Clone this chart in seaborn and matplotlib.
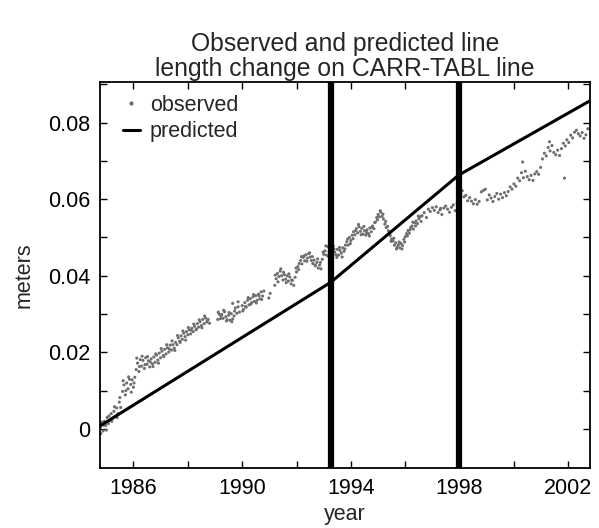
import matplotlib
matplotlib.use("Agg")
import matplotlib.pyplot as plt
from matplotlib.lines import Line2D
import numpy as np
import pandas as pd
import seaborn as sns

# ---------------- data ----------------
# observed line length change, first reading pass (years, millimetres)
obs_year = [
    1984.78, 1984.83, 1984.88, 1984.93, 1984.98, 1985.03, 1985.08, 1985.13, 1985.18, 1985.23,
    1985.28, 1985.33, 1985.38, 1985.43, 1985.48, 1985.53, 1985.60, 1985.65, 1985.70, 1985.75,
    1985.80, 1985.85, 1985.90, 1985.95, 1986.00, 1986.05, 1986.10, 1986.15, 1986.20, 1986.25,
    1986.30, 1986.35, 1986.40, 1986.45, 1986.50, 1986.55, 1986.60, 1986.65, 1986.70, 1986.75,
    1986.80, 1986.85, 1986.90, 1986.95, 1987.00, 1987.05, 1987.10, 1987.15, 1987.20, 1987.25,
    1987.30, 1987.35, 1987.40, 1987.45, 1987.50, 1987.55, 1987.60, 1987.65, 1987.70, 1987.75,
    1987.80, 1987.85, 1987.90, 1987.95, 1988.00, 1988.05, 1988.10, 1988.15, 1988.20, 1988.25,
    1988.30, 1988.35, 1988.40, 1988.45, 1988.50, 1988.55, 1988.60, 1988.65, 1988.70, 1988.75,
    1988.80, 1989.10, 1989.15, 1989.20, 1989.25, 1989.30, 1989.35, 1989.40, 1989.45, 1989.50,
    1989.55, 1989.60, 1989.65, 1989.70, 1989.75, 1989.80, 1989.85, 1989.90, 1990.00, 1990.05,
    1990.10, 1990.15, 1990.20, 1990.25, 1990.30, 1990.35, 1990.40, 1990.45, 1990.50, 1990.55,
    1990.60, 1990.65, 1990.70, 1990.75, 1990.80, 1990.98, 1991.03, 1991.20, 1991.25, 1991.30,
    1991.35, 1991.40, 1991.45, 1991.50, 1991.55, 1991.60, 1991.65, 1991.70, 1991.75, 1991.80,
    1991.85, 1991.90, 1991.95, 1992.00, 1992.05, 1992.10, 1992.15, 1992.20, 1992.25, 1992.30,
    1992.35, 1992.40, 1992.45, 1992.50, 1992.55, 1992.60, 1992.65, 1992.70, 1992.75, 1992.80,
    1992.85, 1992.90, 1992.95, 1993.00, 1993.05, 1993.10, 1993.15, 1993.20, 1993.25, 1993.30,
    1993.35, 1993.40, 1993.45, 1993.50, 1993.55, 1993.60, 1993.65, 1993.70, 1993.75, 1993.80,
    1993.85, 1993.90, 1993.95, 1994.00, 1994.05, 1994.10, 1994.15, 1994.20, 1994.25, 1994.30,
    1994.35, 1994.40, 1994.45, 1994.50, 1994.55, 1994.60, 1994.65, 1994.70, 1994.75, 1994.80,
    1994.85, 1994.90, 1994.95, 1995.00, 1995.05, 1995.10, 1995.15, 1995.20, 1995.25, 1995.30,
    1995.35, 1995.40, 1995.45, 1995.50, 1995.55, 1995.60, 1995.65, 1995.70, 1995.75, 1995.80,
    1995.85, 1995.90, 1995.95, 1996.00, 1996.05, 1996.10, 1996.15, 1996.20, 1996.25, 1996.30,
    1996.35, 1996.40, 1996.45, 1996.50, 1996.55, 1996.62, 1996.70, 1996.78, 1996.85, 1996.92,
    1997.00, 1997.07, 1997.14, 1997.21, 1997.28, 1997.35, 1997.42, 1997.49, 1997.56, 1997.63,
    1997.70, 1997.77, 1997.84, 1997.91, 1998.05, 1998.10, 1998.16, 1998.23, 1998.30, 1998.37,
    1998.44, 1998.51, 1998.58, 1998.65, 1998.72, 1998.80, 1998.88, 1998.95, 1999.02, 1999.09,
    1999.16, 1999.23, 1999.30, 1999.37, 1999.44, 1999.51, 1999.58, 1999.65, 1999.72, 1999.79,
    1999.86, 1999.93, 2000.00, 2000.07, 2000.14, 2000.21, 2000.28, 2000.35, 2000.42, 2000.49,
    2000.56, 2000.63, 2000.70, 2000.77, 2000.84, 2000.91, 2000.98, 2001.05, 2001.12, 2001.19,
    2001.26, 2001.33, 2001.40, 2001.47, 2001.54, 2001.61, 2001.68, 2001.75, 2001.82, 2001.89,
    2001.95, 2002.02, 2002.09, 2002.16, 2002.23, 2002.30, 2002.37, 2002.44, 2002.51, 2002.58,
    2002.65, 2002.72, 2001.86, 2000.32, 2001.31, 1997.30,
]
obs_mm = [
    0.5, 1.8, -0.5, 2.0, 0.9, 3.0, 1.4, 2.2, 4.0, 2.8,
    4.6, 3.2, 5.5, 4.0, 7.0, 5.6, 9.8, 11.5, 8.9, 12.0,
    10.5, 13.0, 11.6, 12.8, 10.9, 13.5, 15.5, 17.2, 15.0, 18.1,
    16.4, 17.9, 15.8, 18.6, 16.9, 17.8, 16.2, 18.3, 17.0, 18.8,
    17.4, 19.3, 18.0, 19.8, 18.6, 20.3, 19.2, 20.8, 19.6, 21.2,
    20.1, 21.9, 20.6, 22.0, 21.1, 22.6, 22.0, 23.8, 22.9, 24.3,
    23.4, 25.0, 24.1, 25.4, 24.6, 25.9, 24.8, 26.3, 25.4, 26.8,
    25.9, 27.5, 26.6, 28.0, 27.0, 28.6, 27.5, 29.0, 27.9, 28.6,
    27.6, 28.6, 30.0, 28.8, 29.9, 28.9, 30.6, 29.3, 28.5, 29.7,
    28.4, 30.1, 28.7, 29.5, 31.6, 30.2, 31.9, 30.5, 32.2, 31.2,
    33.0, 31.8, 33.6, 32.4, 34.0, 33.0, 34.5, 33.3, 34.8, 33.6,
    35.2, 34.0, 35.8, 34.7, 36.0, 34.2, 35.4, 37.5, 39.2, 40.6,
    39.8, 41.2, 40.0, 38.9, 40.3, 39.1, 40.0, 38.6, 39.7, 37.9,
    38.8, 37.5, 39.6, 41.0, 42.4, 43.2, 44.0, 43.1, 44.8, 43.9,
    45.5, 44.6, 45.8, 44.9, 44.0, 43.2, 44.1, 42.6, 43.5, 42.0,
    42.8, 41.8, 44.3, 45.6, 46.5, 45.4, 47.6, 46.3, 47.0, 46.0,
    47.8, 46.2, 45.5, 46.9, 45.4, 46.6, 45.9, 47.3, 46.4, 48.0,
    48.9, 48.0, 50.0, 49.2, 50.6, 51.5, 50.7, 52.3, 51.2, 52.8,
    51.6, 52.4, 50.9, 51.8, 50.6, 52.0, 51.0, 52.5, 51.5, 53.0,
    52.3, 54.0, 55.2, 56.0, 55.4, 56.6, 55.5, 54.8, 53.5, 52.6,
    52.9, 51.0, 50.5, 49.6, 49.1, 48.0, 48.6, 47.5, 48.1, 47.3,
    48.4, 47.9, 49.5, 50.2, 51.0, 51.8, 51.1, 52.6, 53.0, 52.2,
    53.8, 54.3, 53.6, 54.9, 55.4, 55.7, 56.5, 55.2, 57.4, 56.8,
    57.8, 57.1, 58.0, 56.5, 57.2, 56.0, 57.7, 58.2, 57.4, 56.6,
    57.9, 58.5, 57.0, 59.0, 61.4, 62.2, 60.6, 61.0, 59.6, 60.4,
    59.5, 58.8, 59.9, 58.7, 59.4, 61.9, 62.3, 62.6, 59.8, 61.1,
    60.3, 59.4, 60.7, 61.5, 60.0, 61.3, 60.4, 61.7, 60.9, 62.0,
    63.2, 62.6, 64.0, 63.4, 65.5, 64.8, 66.9, 65.6, 67.3, 65.9,
    65.1, 66.2, 64.9, 66.6, 67.2, 66.5, 68.3, 70.5, 72.0, 71.3,
    73.5, 72.6, 74.0, 72.2, 71.6, 72.8, 71.4, 73.2, 74.6, 73.9,
    75.5, 74.8, 76.7, 76.0, 77.5, 78.0, 77.1, 76.5, 77.4, 75.9,
    76.8, 78.4, 65.5, 69.7, 75.0, 57.6,
]

# observed, second reading pass through the dense part of the cloud
obs_year_b = [
    1984.80, 1984.90, 1985.00, 1985.10, 1985.20, 1985.30, 1985.40, 1985.50, 1985.62, 1985.72,
    1985.82, 1985.92, 1986.02, 1986.12, 1986.22, 1986.32, 1986.42, 1986.52, 1986.62, 1986.72,
    1986.82, 1986.92, 1987.02, 1987.12, 1987.22, 1987.32, 1987.42, 1987.52, 1987.62, 1987.72,
    1987.82, 1987.92, 1988.02, 1988.12, 1988.22, 1988.32, 1988.42, 1988.52, 1988.62, 1988.72,
    1989.12, 1989.22, 1989.32, 1989.42, 1989.52, 1989.62, 1989.72, 1989.65, 1989.85, 1990.02,
    1990.12, 1990.22, 1990.32, 1990.42, 1990.52, 1990.62, 1990.72, 1991.22, 1991.32, 1991.42,
    1991.52, 1991.62, 1991.72, 1991.82, 1991.98, 1992.08, 1992.18, 1992.28, 1992.38, 1992.48,
    1992.58, 1992.68, 1992.78, 1992.88, 1992.98, 1993.08, 1993.18, 1993.28, 1993.38, 1993.48,
    1993.58, 1993.68, 1993.78, 1993.88, 1993.98, 1994.08, 1994.18, 1994.28, 1994.38, 1994.48,
    1994.58, 1994.68, 1994.78, 1994.88, 1994.98, 1995.08, 1995.18, 1995.28, 1995.38, 1995.48,
    1995.58, 1995.68, 1995.78, 1995.88, 1995.98, 1996.08, 1996.18, 1996.28, 1996.38, 1996.48,
    1996.58,
]
obs_mm_b = [
    -1.2, 1.0, -0.3, 3.4, 2.0, 5.8, 3.0, 8.2, 12.6, 10.0,
    13.6, 9.6, 12.0, 18.5, 16.3, 19.0, 16.8, 18.9, 17.5, 16.3,
    19.6, 17.2, 21.0, 18.9, 22.0, 20.9, 23.0, 20.5, 24.4, 22.6,
    25.6, 23.2, 26.5, 25.8, 27.4, 26.1, 28.5, 26.4, 29.5, 28.3,
    30.5, 29.5, 31.0, 28.2, 30.4, 28.0, 30.8, 32.8, 33.2, 30.8,
    32.0, 34.3, 32.6, 35.1, 32.9, 34.8, 33.8, 40.2, 38.4, 41.8,
    40.9, 38.2, 40.5, 38.9, 42.0, 41.6, 45.0, 45.2, 43.8, 46.0,
    45.0, 42.8, 44.4, 43.5, 46.2, 47.8, 45.0, 48.2, 47.0, 44.8,
    47.4, 44.9, 47.0, 49.6, 48.4, 49.7, 51.8, 53.4, 50.7, 52.9,
    51.3, 50.4, 52.6, 53.9, 54.6, 57.0, 56.1, 54.2, 51.8, 49.0,
    49.8, 47.0, 48.8, 47.0, 48.8, 50.4, 52.0, 54.0, 53.0, 55.6,
    54.2,
]

pred_year = [1984.77, 1993.26, 1997.97, 2002.80]
pred_m = [0.0008, 0.0383, 0.0663, 0.0857]

event_years = [1993.26, 1997.97]

x_ticks = [1986, 1988, 1990, 1992, 1994, 1996, 1998, 2000, 2002]
x_ticklabels = ["1986", "", "1990", "", "1994", "", "1998", "", "2002"]
y_ticks = [0.0, 0.01, 0.02, 0.03, 0.04, 0.05, 0.06, 0.07, 0.08, 0.09]
y_ticklabels = ["0", "", "0.02", "", "0.04", "", "0.06", "", "0.08", ""]

title_text = "Observed and predicted line\nlength change on CARR-TABL line"

# ---------------- plotting ----------------
sns.set_theme(style="white")
plt.rcParams["font.family"] = ["Liberation Sans", "DejaVu Sans"]

obs = pd.DataFrame({
    "year": obs_year + obs_year_b,
    "meters": np.array(obs_mm + obs_mm_b) / 1000.0,
})
pred = pd.DataFrame({"year": pred_year, "meters": pred_m})

fig = plt.figure(figsize=(5.99, 5.28), dpi=100)
ax = fig.add_axes([0.167, 0.1136, 0.818, 0.7311])

grey = "#6e6e6e"
sns.scatterplot(data=obs, x="year", y="meters", ax=ax, s=5, color=grey,
                edgecolor="none", linewidth=0, legend=False, zorder=2)
sns.lineplot(data=pred, x="year", y="meters", ax=ax, color="black",
             linewidth=2.2, legend=False, zorder=3)
for ev in event_years:
    ax.axvline(ev, color="black", linewidth=4.5, zorder=4)

ax.set_xlim(1984.77, 2002.80)
ax.set_ylim(-0.0102, 0.0906)
ax.set_xticks(x_ticks)
ax.set_xticklabels(x_ticklabels)
ax.set_yticks(y_ticks)
ax.set_yticklabels(y_ticklabels)

fs = 15.5
ax.tick_params(direction="in", length=5, width=1.0, top=True, right=True,
               bottom=True, left=True, labelsize=fs, colors="black", pad=7)
for sp in ax.spines.values():
    sp.set_color("black")
    sp.set_linewidth(1.3)

ax.set_xlabel("year", fontsize=fs, labelpad=4)
ax.set_ylabel("meters", fontsize=fs, labelpad=10)
ax.set_title(title_text, fontsize=17.8, pad=4, linespacing=1.1)

handles = [
    Line2D([], [], marker="o", linestyle="", color=grey, markersize=3, markeredgewidth=0),
    Line2D([], [], color="black", linewidth=2.2),
]
ax.legend(handles, ["observed", "predicted"], loc="upper left",
          bbox_to_anchor=(0.02, 1.0), frameon=False,
          fontsize=fs, handlelength=0.8, handletextpad=0.45, labelspacing=0.25,
          borderaxespad=0.3, borderpad=0.3)

fig.savefig("out.png", dpi=100)
